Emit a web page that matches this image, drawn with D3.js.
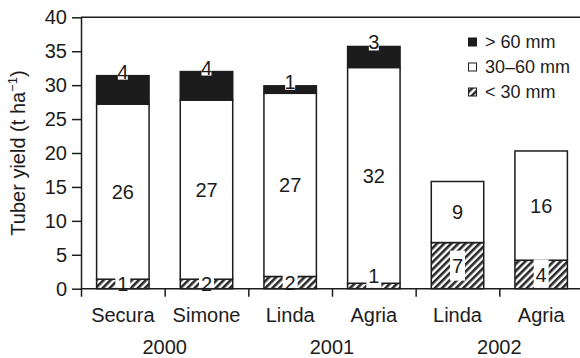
<!DOCTYPE html>
<html><head><meta charset="utf-8">
<script src="https://cdn.jsdelivr.net/npm/d3@7"></script>
<style>body{margin:0;background:#fff}svg{display:block;font-family:"Liberation Sans",Arial,sans-serif}</style>
</head><body><div id="chart"></div>
<script>
const categories = ["Secura","Simone","Linda","Agria","Linda","Agria"];
const years = ["2000","2001","2002"];
const smallVals = [1.4, 1.4, 1.8, 0.8, 6.8, 4.2];
const mediumVals = [25.8, 26.4, 27.0, 31.8, 9.0, 16.1];
const largeVals = [4.2, 4.2, 1.1, 3.1, 0, 0];
const smallLabels = ["1","2","2","1","7","4"];
const mediumLabels = ["26","27","27","32","9","16"];
const largeLabels = ["4","4","1","3","",""];
const yTicks = [0,5,10,15,20,25,30,35,40];
const legendLabels = ["> 60 mm","30\u201360 mm","< 30 mm"];

const W = 580, H = 358;
const ink = "#1c1c1c";
const x0 = 81, x1 = 583, yBot = 288.7, yTop = 17.3;
const svg = d3.select("#chart").append("svg").attr("width", W).attr("height", H);

const defs = svg.append("defs");
const pat = defs.append("pattern").attr("id","hatch").attr("patternUnits","userSpaceOnUse")
  .attr("width",5).attr("height",5).attr("patternTransform","rotate(45)");
pat.append("rect").attr("width",5).attr("height",5).attr("fill","#fff");
pat.append("rect").attr("width",2.6).attr("height",5).attr("fill","#2a2a2a");

const idx = categories.map((_, i) => i);
const x = d3.scaleBand().domain(idx).range([x0, x1]).paddingInner(0.373).paddingOuter(0.1865);
const xt = d3.scaleLinear().domain([0, categories.length]).range([x0, x1]);
const y = d3.scaleLinear().domain([0, 40]).range([yBot, yTop]);

// y axis
const ya = svg.append("g").attr("transform", `translate(${x0},0)`)
  .call(d3.axisLeft(y).tickValues(yTicks).tickSize(9).tickPadding(5).tickSizeOuter(0));
ya.select(".domain").attr("stroke", ink).attr("stroke-width", 1.5);
ya.selectAll(".tick line").attr("stroke", ink).attr("stroke-width", 1.5);
ya.selectAll(".tick text").attr("font-size", 20).attr("fill", ink).attr("font-family","Liberation Sans, Arial, sans-serif");

// top frame
svg.append("line").attr("x1", x0).attr("x2", W).attr("y1", y(40)).attr("y2", y(40))
  .attr("stroke", ink).attr("stroke-width", 1.5);

// bars
const segs = [];
idx.forEach(i => {
  const a = smallVals[i], b = mediumVals[i], c = largeVals[i];
  segs.push({i, lo: 0, hi: a, fill: "url(#hatch)"});
  segs.push({i, lo: a, hi: a + b, fill: "#fff"});
  if (c > 0) segs.push({i, lo: a + b, hi: a + b + c, fill: ink});
});
const gBars = svg.append("g");
gBars.selectAll("rect").data(segs).join("rect")
  .attr("x", d => x(d.i)).attr("width", x.bandwidth())
  .attr("y", d => y(d.hi)).attr("height", d => y(d.lo) - y(d.hi))
  .attr("fill", d => d.fill).attr("stroke", ink).attr("stroke-width", 1.5);

const gLab = svg.append("g").attr("font-size", 20).attr("fill", ink).attr("text-anchor", "middle");
// small segment labels with white boxes
idx.forEach(i => {
  const a = smallVals[i];
  const cx = x(i) + x.bandwidth() / 2;
  const cy = a >= 1 ? y(a / 2) : y(a) - 7.2;
  gLab.append("rect").attr("x", cx - 7.5).attr("width", 15)
    .attr("y", cy - 15).attr("height", Math.min(30, yBot - (cy - 15) - 0.8)).attr("fill", "#fff");
  gLab.append("text").attr("x", cx).attr("y", cy).attr("dy", "0.36em").text(smallLabels[i]);
});
// medium labels
idx.forEach(i => {
  const cx = x(i) + x.bandwidth() / 2;
  gLab.append("text").attr("x", cx).attr("y", y(smallVals[i] + mediumVals[i] / 2)).attr("dy", "0.36em").text(mediumLabels[i]);
});
// large labels at bar top
idx.forEach(i => {
  if (!largeLabels[i]) return;
  const cx = x(i) + x.bandwidth() / 2;
  const top = y(smallVals[i] + mediumVals[i] + largeVals[i]);
  const base = top + 3;
  gLab.append("rect").attr("x", cx - 5).attr("width", 10).attr("y", base - 14).attr("height", 15).attr("fill", "#fff");
  gLab.append("text").attr("x", cx).attr("y", base).text(largeLabels[i]);
});

// x axis line and ticks
svg.append("line").attr("x1", x0).attr("x2", W).attr("y1", yBot).attr("y2", yBot)
  .attr("stroke", ink).attr("stroke-width", 1.5);
const xa = svg.append("g").attr("transform", `translate(0,${yBot})`)
  .call(d3.axisBottom(xt).tickValues(d3.range(0, categories.length + 1)).tickSize(8).tickFormat(""));
xa.select(".domain").remove();
xa.selectAll(".tick line").attr("stroke", ink).attr("stroke-width", 1.5);

// category labels
svg.append("g").attr("font-size", 20).attr("fill", ink).attr("text-anchor", "middle")
  .selectAll("text").data(idx).join("text")
  .attr("x", i => x(i) + x.bandwidth() / 2).attr("y", 321.5).text(i => categories[i]);
// year labels
svg.append("g").attr("font-size", 20).attr("fill", ink).attr("text-anchor", "middle")
  .selectAll("text").data(years).join("text")
  .attr("x", (d, k) => xt(2 * k + 1)).attr("y", 353.5).text(d => d);

// y title
const t = svg.append("text").attr("transform", `translate(25,${(yTop + yBot) / 2}) rotate(-90)`)
  .attr("text-anchor", "middle").attr("font-size", 20).attr("fill", ink);
t.append("tspan").text("Tuber yield (t ha");
t.append("tspan").attr("font-size", 13).attr("dy", -8).text("\u22121");
t.append("tspan").attr("dy", 8).text(")");

// legend
const legFills = [ink, "#fff", "url(#hatch)"];
const lg = svg.append("g");
legendLabels.forEach((lab, k) => {
  const cy = 42 + k * 25;
  lg.append("rect").attr("x", 468.5).attr("y", cy - 4).attr("width", 8).attr("height", 8)
    .attr("fill", legFills[k]).attr("stroke", ink).attr("stroke-width", 1);
  lg.append("text").attr("x", 485).attr("y", cy).attr("dy", "0.36em")
    .attr("font-size", 18).attr("fill", ink).text(lab);
});
</script></body></html>
